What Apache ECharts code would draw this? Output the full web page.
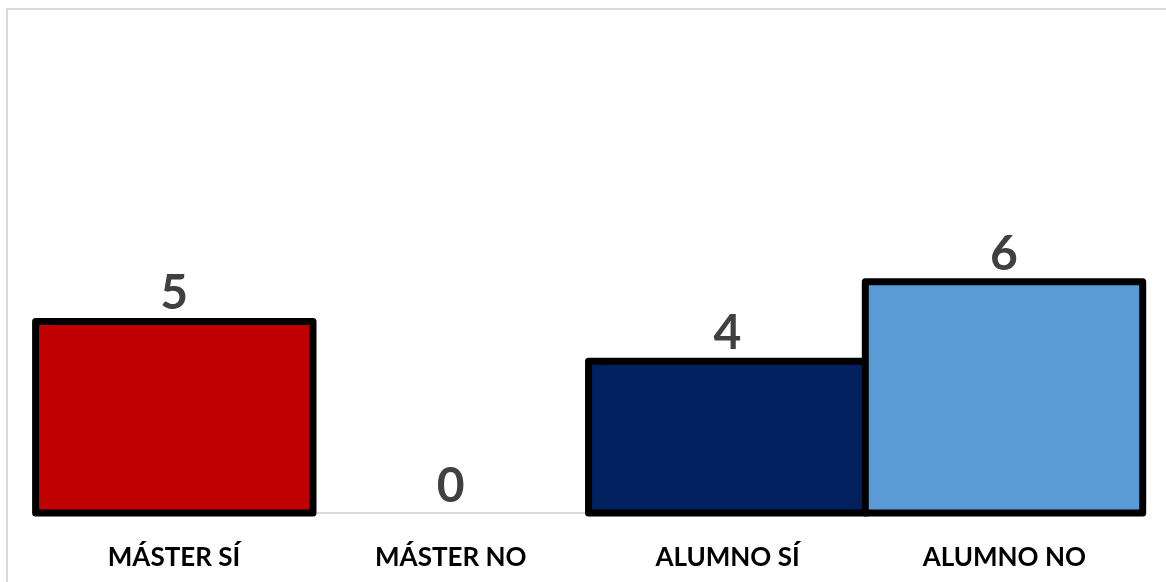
<!DOCTYPE html>
<html>
<head>
<meta charset="utf-8">
<title>Máster / Alumno</title>
<script src="https://cdn.jsdelivr.net/npm/echarts@6/dist/echarts.min.js"></script>
<style>
  html, body {
    margin: 0;
    padding: 0;
    background: #ffffff;
  }
  .frame {
    position: absolute;
    left: 6px;
    top: 8px;
    width: 1200px;
    height: 600px;
    border-left: 2px solid #d9d9d9;
    border-top: 2px solid #d9d9d9;
  }
  #chart {
    position: absolute;
    left: 0;
    top: 0;
    width: 1166px;
    height: 582px;
  }
</style>
</head>
<body>
<div class="frame"></div>
<div id="chart"></div>
<script>
// datos
const categorias = ['MÁSTER SÍ', 'MÁSTER NO', 'ALUMNO SÍ', 'ALUMNO NO']
const valores = [5, 0, 4, 6]
const colores = ['#C00000', '#C00000', '#002060', '#5B9BD5']

const chart = echarts.init(document.getElementById('chart'))

const option = {
  animation: false,
  grid: {
    left: 35.6,
    right: 23.3,
    top: 119.5,
    bottom: 65.5
  },
  xAxis: {
    type: 'category',
    data: categorias,
    offset: -4,
    axisLine: {
      lineStyle: { color: '#d9d9d9', width: 2 }
    },
    axisTick: { show: false },
    axisLabel: {
      margin: 32,
      color: '#000000',
      fontFamily: 'Lato',
      fontWeight: 'bold',
      fontSize: 26
    }
  },
  yAxis: {
    type: 'value',
    min: 0,
    max: 10,
    show: false
  },
  series: [
    {
      type: 'bar',
      barWidth: 285,
      barCategoryGap: '0%',
      data: valores.map((v, i) => ({
        value: v,
        itemStyle: {
          color: colores[i],
          borderColor: v === 0 ? 'transparent' : '#000000',
          borderWidth: v === 0 ? 0 : 7,
          borderJoin: 'round'
        },
        label: v === 0 ? { distance: 6 } : {}
      })),
      label: {
        show: true,
        position: 'top',
        distance: 0,
        color: '#404040',
        fontFamily: 'Lato',
        fontWeight: 'bold',
        fontSize: 48
      }
    }
  ]
}

chart.setOption(option)
</script>
</body>
</html>
